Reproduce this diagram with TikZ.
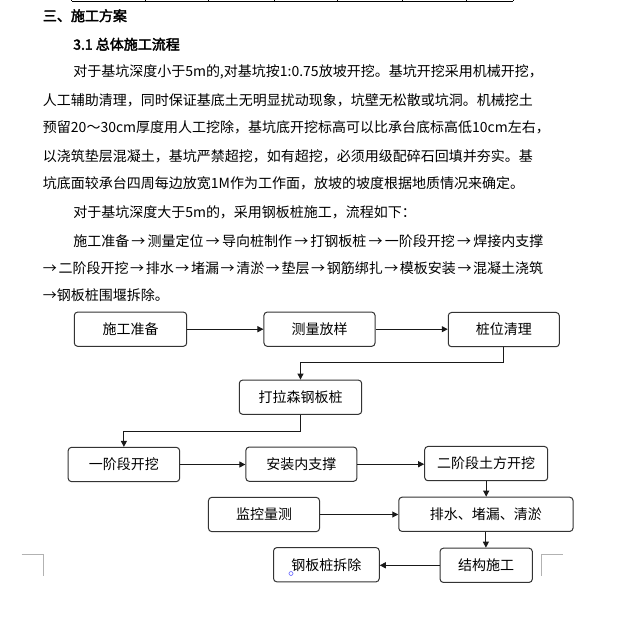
\documentclass[tikz,border=0pt]{standalone}
\usepackage{fontspec}
\setmainfont{Noto Sans CJK SC}
\newfontfamily\cjkb{Noto Sans CJK SC}[FakeBold=2.5]
\usetikzlibrary{arrows.meta}
\XeTeXlinebreaklocale "zh"
\XeTeXlinebreakskip=0pt plus 1pt
\newcommand{\bodyfnt}{\fontsize{10.5pt}{12pt}\selectfont}
\newcommand{\ra}{\hskip 0pt plus 1pt→\hskip 0pt plus 1pt}
\tikzset{
  txt/.style={anchor=west, inner sep=0pt, font=\bodyfnt},
  hd/.style={anchor=west, inner sep=0pt, font=\bodyfnt\cjkb},
  box/.style={draw=black!80, rounded corners=2.5pt, line width=0.75pt, inner sep=0pt, font=\bodyfnt, minimum height=25.7pt},
  arr/.style={-{Triangle[length=4.5pt,width=4.5pt]}, line width=0.75pt, draw=black!90},
  cornermark/.style={draw=black!30, line width=0.6pt}
}
\begin{document}
\begin{tikzpicture}[x=0.75pt,y=-0.75pt]
\useasboundingbox[fill=white] (0,0) rectangle (622,640);
% table bottom edge
\draw[line width=0.75pt] (71.7,1.2) -- (513.3,1.2);
\foreach \xx in {71.7,145,208,274.3,337,402.3,466,513.3}
  \draw[line width=0.75pt] (\xx,0) -- (\xx,1.2);
% headings
\node[hd] (h1) at (42.7,15.7) {三、施工方案};
\node[hd] (h2) at (73,44.3) {3.1 总体施工流程};
% paragraph
\node[txt] (l1) at (73,71.7) {\makebox[352.5pt][s]{对于基坑深度小于5m的,对基坑按1:0.75放坡开挖。基坑开挖采用机械开挖，}};
\node[txt] (l2) at (42.7,100) {\makebox[375.2pt][s]{人工辅助清理，同时保证基底土无明显扰动现象，坑壁无松散或坑洞。机械挖土}};
\node[txt] (l3) at (42.7,127.7) {\makebox[375.2pt][s]{预留20～30cm厚度用人工挖除，基坑底开挖标高可以比承台底标高低10cm左右，}};
\node[txt] (l4) at (42.7,156.7) {\makebox[375.2pt][s]{以浇筑垫层混凝土，基坑严禁超挖，如有超挖，必须用级配碎石回填并夯实。基}};
\node[txt] (l5) at (42.7,183.3) {坑底面较承台四周每边放宽1M作为工作面，放坡的坡度根据地质情况来确定。};
\node[txt] (l6) at (73,212.7) {对于基坑深度大于5m的，采用钢板桩施工，流程如下：};
\node[txt] (l7) at (73,240.7) {\makebox[352.5pt][s]{施工准备\ra 测量定位\ra 导向桩制作\ra 打钢板桩\ra 一阶段开挖\ra 焊接内支撑}};
\node[txt] (l8) at (42.7,268.3) {\makebox[375.2pt][s]{→\hskip 0pt plus 1pt 二阶段开挖\ra 排水\ra 堵漏\ra 清淤\ra 垫层\ra 钢筋绑扎\ra 模板安装\ra 混凝土浇筑}};
\node[txt] (l9) at (42.7,295) {→钢板桩围堰拆除。};
% flowchart boxes
\node[box, minimum width=84.3pt] (A) at (130.5,329.2) {施工准备};
\node[box, minimum width=83.3pt] (B) at (319.5,329.2) {测量放样};
\node[box, minimum width=83.3pt] (C) at (503.8,329.6) {桩位清理};
\node[box, minimum width=91.8pt] (D) at (300.5,397.2) {打拉森钢板桩};
\node[box, minimum width=83.6pt] (E) at (123.9,464.5) {一阶段开挖};
\node[box, minimum width=83.3pt] (F) at (301.4,464.2) {安装内支撑};
\node[box, minimum width=92.3pt] (G) at (486.2,463.6) {二阶段土方开挖};
\node[box, minimum width=83.3pt] (H) at (264,514.5) {监控量测};
\node[box, minimum width=130.7pt] (I) at (485.9,514.3) {排水、堵漏、清淤};
\node[box, minimum width=69.2pt] (J) at (486.2,565.3) {结构施工};
\node[box, minimum width=79.3pt] (K) at (326.4,564.7) {钢板桩拆除};
% connectors
\coordinate (y1) at (0,362.7);
\coordinate (y2) at (0,431.3);
\draw[arr] (A.east) -- (B.west);
\draw[arr] (B.east) -- (B.east -| C.west);
\draw[arr] (C.south) -- (C.south |- y1) -| (D.north);
\draw[arr] (D.south) -- (D.south |- y2) -| (E.north);
\draw[arr] (E.east) -- (E.east -| F.west);
\draw[arr] (F.east) -- (F.east -| G.west);
\draw[arr] (G.south) -- (G.south |- I.north);
\draw[arr] (H.east) -- (H.east -| I.west);
\draw[arr] (I.south) -- (I.south |- J.north);
\draw[arr] (J.west) -- (J.west -| K.east);
% page corner marks
\draw[cornermark] (21.7,554.3) -- (43.3,554.3) -- (43.3,575.7);
\draw[cornermark] (541.7,575.7) -- (541.7,554.3) -- (562.7,554.3);
% anchor glyph
\draw[blue!55, line width=0.5pt] (291,573.5) circle (2);
\end{tikzpicture}
\end{document}
